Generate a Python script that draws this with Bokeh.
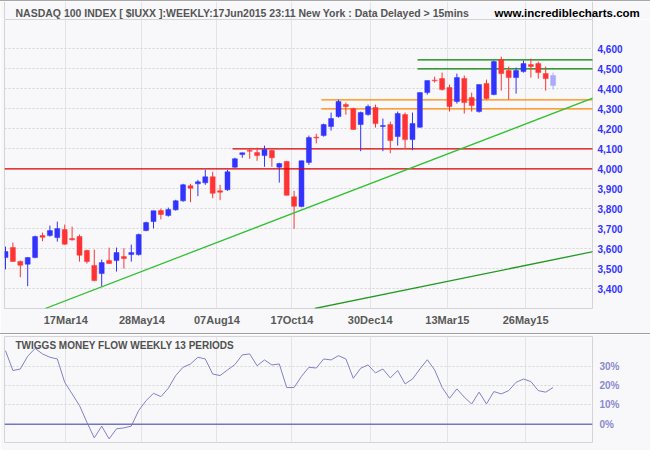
import numpy as np
import pandas as pd
from bokeh.plotting import figure
from bokeh.models import (ColumnDataSource, Range1d, FixedTicker, DatetimeTickFormatter,
                          NumeralTickFormatter, PrintfTickFormatter, Span, Slope, Label, Spacer)
from bokeh.layouts import column
from bokeh.embed import file_html
from bokeh.resources import INLINE

# ---------------- data ----------------
week_dates = pd.date_range("2014-01-19", periods=75, freq="7D")

opens = [3556, 3606, 3537, 3523, 3556, 3666, 3666, 3656, 3696, 3651,
         3661, 3591, 3516, 3476, 3541, 3541, 3561, 3571, 3571, 3691,
         3736, 3791, 3766, 3795, 3840, 3915, 3925, 3930, 3960, 3890,
         3895, 4008, 4071, 4092, 4081, 4066, 4091, 4008, 4036, 3860,
         3811, 4032, 4158, 4166, 4211, 4261, 4321, 4301, 4221, 4271,
         4306, 4212, 4221, 4161, 4271, 4146, 4208, 4381, 4443, 4451,
         4406, 4336, 4451, 4356, 4286, 4426, 4371, 4546, 4491, 4456,
         4486, 4521, 4526, 4476, 4416]
highs = [3611, 3631, 3541, 3558, 3666, 3681, 3716, 3736, 3721, 3711,
         3671, 3596, 3596, 3546, 3606, 3606, 3603, 3621, 3676, 3736,
         3791, 3801, 3806, 3845, 3925, 3925, 3945, 3995, 3985, 3920,
         3995, 4055, 4081, 4101, 4106, 4116, 4096, 4030, 4040, 3890,
         4041, 4166, 4175, 4226, 4281, 4346, 4331, 4306, 4286, 4321,
         4321, 4251, 4236, 4286, 4281, 4281, 4381, 4441, 4461, 4481,
         4421, 4476, 4466, 4381, 4421, 4446, 4541, 4561, 4511, 4506,
         4541, 4551, 4536, 4511, 4481]
lows = [3497, 3535, 3458, 3413, 3553, 3638, 3661, 3636, 3621, 3641,
        3536, 3526, 3438, 3411, 3525, 3486, 3501, 3536, 3566, 3688,
        3702, 3747, 3761, 3791, 3835, 3833, 3863, 3920, 3853, 3843,
        3890, 4005, 4055, 4050, 4040, 4010, 4010, 3931, 3866, 3700,
        3808, 4020, 4127, 4161, 4191, 4256, 4271, 4196, 4088, 4266,
        4206, 4088, 4078, 4116, 4101, 4093, 4205, 4371, 4431, 4391,
        4286, 4326, 4276, 4286, 4281, 4346, 4368, 4391, 4346, 4376,
        4481, 4456, 4451, 4391, 4396]
closes = [3586, 3537, 3518, 3556, 3661, 3658, 3691, 3701, 3623, 3645,
          3568, 3536, 3441, 3531, 3526, 3581, 3551, 3581, 3671, 3731,
          3790, 3772, 3796, 3840, 3920, 3903, 3935, 3960, 3878, 3883,
          3985, 4050, 4080, 4088, 4066, 4096, 4055, 4026, 3868, 3813,
          4040, 4156, 4154, 4221, 4251, 4336, 4311, 4197, 4281, 4311,
          4226, 4216, 4141, 4276, 4146, 4226, 4381, 4441, 4440, 4396,
          4311, 4456, 4331, 4316, 4421, 4351, 4536, 4476, 4456, 4491,
          4526, 4511, 4481, 4451, 4466]

tmf = [38.1, 27.8, 28.6, 35.2, 39.3, 36.4, 34.7, 33.8, 21.7, 15.7,
       9.7, 1.0, -7.1, -1.0, -7.6, -2.4, -1.9, -1.0, 7.1, 12.2,
       16.0, 14.3, 18.6, 25.2, 29.5, 31.2, 34.7, 33.8, 26.0, 25.2,
       28.1, 30.9, 35.9, 36.4, 30.3, 33.3, 30.7, 31.2, 19.0, 19.0,
       24.8, 29.5, 29.1, 33.8, 33.3, 35.5, 33.8, 23.8, 29.0, 30.7,
       26.6, 28.6, 24.0, 27.8, 20.9, 23.4, 28.6, 33.4, 28.1, 19.1,
       13.4, 18.3, 14.0, 10.5, 16.6, 10.5, 16.9, 15.7, 17.4, 21.7,
       23.4, 22.1, 17.4, 16.6, 19.0]

tick_dates = ["2014-03-17", "2014-05-28", "2014-08-07", "2014-10-17",
              "2014-12-30", "2015-03-13", "2015-05-26"]
tick_labels = ["17Mar14", "28May14", "07Aug14", "17Oct14",
               "30Dec14", "13Mar15", "26May15"]

price_ticks = [3400, 3500, 3600, 3700, 3800, 3900, 4000, 4100, 4200, 4300, 4400, 4500, 4600]
tmf_ticks = [0, 10, 20, 30]

# horizontal support / resistance levels (level, starting week index, colour)
level_values = [4100, 4300, 4345, 4500, 4545]
level_start_week = [31, 43, 43, 56, 56]
level_colors = ["#dd0000", "#ff8800", "#ff8800", "#008000", "#008000"]
full_level = 4000

# trend lines: anchor weeks and prices
trend1_weeks = [13, 74]
trend1_prices = [3410, 4277]
trend2_weeks = [42, 74]
trend2_prices = [3303, 3545]

# ---------------- helpers ----------------
DAY = 86400000.0
PX_PER_DAY = 1.0571

def ms(ts):
    return pd.Timestamp(ts).value / 1e6

BG = "#f8f8fa"
BLUE = "#3333ff"
RED = "#ff3333"
LIGHT = "#aaaaff"
FONT = "Liberation Sans"
OUTLINE = "#d4d4d8"
VGRID = "#e4e4e8"

x_start = ms(week_dates[0]) - 0.946 * DAY
x_end = x_start + 588 / PX_PER_DAY * DAY
xr = Range1d(x_start, x_end)
tick_ms = [ms(d) for d in tick_dates]

o = np.array(opens, float); c = np.array(closes, float)
colors = np.where(c >= o, BLUE, RED).astype(object)
colors[-1] = LIGHT
src = ColumnDataSource(dict(
    x=week_dates, high=highs, low=lows,
    top=np.maximum(o, c), bottom=np.minimum(o, c), color=list(colors)))

# ---------------- title strip ----------------
t = figure(width=650, height=18, x_axis_type="datetime",
           x_range=Range1d(x_start - 4 / PX_PER_DAY * DAY, x_start + 646 / PX_PER_DAY * DAY),
           y_range=Range1d(0, 1), x_axis_location=None, y_axis_location=None,
           toolbar_location=None, output_backend="svg",
           min_border_left=0, min_border_right=0, min_border_top=0, min_border_bottom=0)
t.frame_align = False
t.background_fill_color = BG
t.border_fill_color = BG
t.outline_line_color = None
t.ygrid.visible = False
t.xgrid.ticker = FixedTicker(ticks=tick_ms)
t.xgrid.grid_line_color = VGRID
t.add_layout(Span(location=x_start, dimension="height", line_color=OUTLINE, line_width=1))
t.add_layout(Span(location=x_end, dimension="height", line_color=OUTLINE, line_width=1))
t.add_layout(Label(x=15, y=6.5, x_units="screen", y_units="screen",
                   text="NASDAQ 100 INDEX [ $IUXX ]:WEEKLY:17Jun2015 23:11 New York : Data Delayed > 15mins",
                   text_font=FONT, text_font_style="bold", text_font_size="10.5px",
                   text_color="#555555", text_baseline="alphabetic"))
t.add_layout(Label(x=494, y=6.5, x_units="screen", y_units="screen",
                   text="www.incrediblecharts.com", text_font=FONT, text_font_style="bold",
                   text_font_size="11.5px", text_color="#000000", text_baseline="alphabetic"))

# ---------------- main price panel ----------------
p = figure(width=650, height=314, x_axis_type="datetime", x_range=xr,
           y_range=Range1d(3301.5, 4746.5), y_axis_location="right",
           toolbar_location=None, output_backend="svg",
           min_border_left=4, min_border_right=58, min_border_top=0, min_border_bottom=25)
p.background_fill_color = BG
p.border_fill_color = BG
p.outline_line_color = OUTLINE

p.xgrid.ticker = FixedTicker(ticks=tick_ms)
p.xgrid.grid_line_color = VGRID
p.ygrid.grid_line_color = "#d4d4d4"
p.ygrid.grid_line_dash = "2 2"

p.xaxis.ticker = FixedTicker(ticks=tick_ms)
p.xaxis.major_label_overrides = {m: lab for m, lab in zip(tick_ms, tick_labels)}
p.xaxis.formatter = DatetimeTickFormatter(days="%d%b%y", months="%d%b%y", years="%d%b%y")
p.yaxis.ticker = FixedTicker(ticks=price_ticks)
p.yaxis.formatter = NumeralTickFormatter(format="0,0")
for ax in (p.xaxis[0], p.yaxis[0]):
    ax.axis_line_color = None
    ax.major_tick_line_color = None
    ax.minor_tick_line_color = None
    ax.major_tick_out = 0
    ax.major_tick_in = 0
    ax.minor_tick_out = 0
    ax.major_label_text_font = FONT
    ax.major_label_text_font_style = "bold"
    ax.major_label_standoff = 5
p.xaxis.major_label_text_font_size = "11px"
p.xaxis.major_label_text_color = "#585858"
p.yaxis.major_label_text_font_size = "10px"
p.yaxis.major_label_text_color = BLUE

# levels
p.add_layout(Span(location=full_level, dimension="width", line_color="#dd0000", line_width=1.3))
lvl_src = ColumnDataSource(dict(
    x=[ms(week_dates[i]) - 2.2 * DAY for i in level_start_week],
    y=level_values, color=level_colors))
p.ray(x="x", y="y", length=0, angle=0, line_color="color", line_width=1.3, source=lvl_src)

# trend lines
def slope_from(weeks, prices, color):
    t1, t2 = ms(week_dates[weeks[0]]), ms(week_dates[weeks[1]])
    g = (prices[1] - prices[0]) / (t2 - t1)
    return Slope(gradient=g, y_intercept=prices[0] - g * t1, line_color=color, line_width=1.3)
p.add_layout(slope_from(trend1_weeks, trend1_prices, "#33c033"))
p.add_layout(slope_from(trend2_weeks, trend2_prices, "#239a23"))

# candles
p.segment(x0="x", y0="low", x1="x", y1="high", line_color="color", line_width=1, source=src)
p.vbar(x="x", width=4.7 * DAY, top="top", bottom="bottom", fill_color="color",
       line_color="color", line_width=0.5, source=src)

# ---------------- Twiggs money flow panel ----------------
q = figure(width=650, height=116, x_axis_type="datetime", x_range=xr,
           y_range=Range1d(-9.48, 45.44), y_axis_location="right", x_axis_location=None,
           toolbar_location=None, output_backend="svg",
           min_border_left=4, min_border_right=58, min_border_top=2, min_border_bottom=8)
q.background_fill_color = BG
q.border_fill_color = BG
q.outline_line_color = OUTLINE
q.xgrid.ticker = FixedTicker(ticks=tick_ms)
q.xgrid.grid_line_color = VGRID
q.ygrid.grid_line_color = "#d4d4d4"
q.ygrid.grid_line_dash = "2 2"
q.yaxis.ticker = FixedTicker(ticks=tmf_ticks)
q.yaxis.formatter = PrintfTickFormatter(format="%d%%")
q.yaxis.axis_line_color = None
q.yaxis.major_tick_line_color = None
q.yaxis.minor_tick_line_color = None
q.yaxis.major_tick_out = 0
q.yaxis.major_tick_in = 0
q.yaxis.minor_tick_out = 0
q.yaxis.major_label_text_font = FONT
q.yaxis.major_label_text_font_style = "bold"
q.yaxis.major_label_text_font_size = "10px"
q.yaxis.major_label_text_color = "#8a8ad0"
q.yaxis.major_label_standoff = 7

q.add_layout(Span(location=0, dimension="width", line_color="#7474c8", line_width=1.5))
q.line(x=week_dates, y=tmf, line_color="#8080c8", line_width=1)
q.add_layout(Label(x=11, y=97.5, x_units="screen", y_units="screen",
                   text="TWIGGS MONEY FLOW WEEKLY 13 PERIODS", text_font=FONT,
                   text_font_style="bold", text_font_size="10px", text_color="#505050",
                   text_baseline="alphabetic"))

sep_top = Spacer(width=650, height=1, styles={"background-color": "#a8a8a8"})
sep_mid = Spacer(width=650, height=1, styles={"background-color": "#a0a0a0"})

layout = column(sep_top, t, p, sep_mid, q, spacing=0)
open("out.html", "w").write(file_html(layout, INLINE))
